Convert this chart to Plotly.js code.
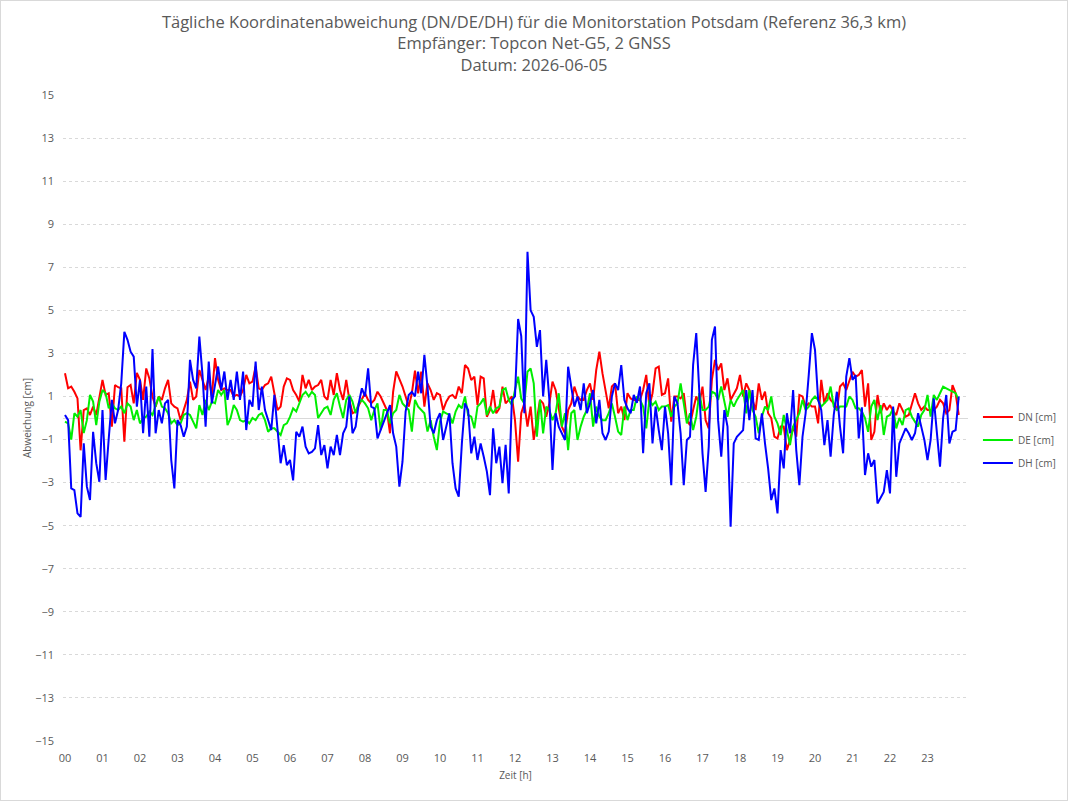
<!DOCTYPE html>
<html>
<head>
<meta charset="utf-8">
<script src="https://cdn.plot.ly/plotly-3.0.1.min.js"></script>
<style>
  html, body { margin: 0; padding: 0; background: #ffffff; }
  #chart { width: 1066px; height: 799px; border: 1px solid #d9d9d9; }
</style>
</head>
<body>
<div id="chart"></div>
<script>
// Messintervall der Tageslösungen in Minuten (Werte ab 00:00)
const intervallMin = 5;

// Koordinatenabweichung Nord [cm]
const DN = [
  2.08,1.38,1.46,1.22,0.91,-1.5,0.37,0.45,0.14,0.53,
  0.14,0.91,1.77,1.07,1.15,-0.4,1.53,1.43,1.38,-1.1,
  1.43,1.53,0.68,2.1,1.77,0.84,2.3,1.84,1.0,0.53,
  1.0,0.84,1.38,1.77,0.68,0.53,
  0.45,-0.1,0.37,0.84,1.69,0.84,1.0,2.23,1.77,1.3,
  1.92,1.0,2.78,1.77,1.3,1.38,1.3,1.3,1.0,1.07,
  1.0,1.3,2.0,1.61,1.69,2.39,1.38,1.3,1.53,1.61,
  1.92,1.15,0.37,0.53,1.46,1.84,1.77,
  1.3,1.07,0.76,2.0,1.38,1.77,1.3,1.46,1.53,1.77,
  1.0,0.84,1.77,1.07,2.08,1.3,0.84,1.77,0.84,0.22,
  0.3,0.6,0.84,1.15,0.84,0.68,0.84,1.22,1.0,0.68,
  0.37,-0.71,1.22,2.16,1.84,1.46,
  1.0,0.53,1.15,2.2,1.15,2.15,0.53,1.61,1.3,0.84,
  1.15,1.07,0.37,0.76,1.0,1.07,0.9,1.46,1.15,2.46,
  2.3,1.76,1.92,0.6,1.92,1.84,0.06,0.37,1.3,0.22,
  0.45,1.46,0.68,0.84,1.0,-0.1,-2.03,0.22,
  0.68,-0.4,0.53,-1.02,-0.1,0.84,0.68,0.06,0.68,1.69,
  1.3,0.53,-0.4,-0.71,0.37,0.68,1.46,1.0,0.84,0.84,
  1.3,1.61,0.84,2.23,3.08,2.07,1.15,0.45,1.46,1.61,
  0.22,0.53,-0.1,1.15,0.91,0.84,0.84,
  0.84,1.3,2.0,0.53,1.15,2.31,2.39,1.07,1.15,1.84,
  -0.17,1.0,1.0,0.91,1.15,-0.1,-0.33,0.37,1.0,0.68,
  1.46,-0.1,-0.48,1.77,2.7,2.23,2.54,1.3,1.84,0.84,
  1.15,1.38,2.0,1.0,1.61,1.3,0.84,
  0.37,1.61,0.84,1.22,0.22,0,-0.87,-0.95,-0.4,-0.4,
  -1.49,-1.02,-0.4,-0.87,1.07,1.0,0.53,0.68,0.53,0.53,
  -0.25,1.77,0.68,1.15,0.84,0.68,0.37,1.46,1.61,1.3,
  1.77,2.15,1.92,
  2.0,2.23,0.53,1.61,-1.02,-0.64,1.07,0.22,0.68,0.37,
  0.6,0.3,0.14,0.68,0.37,0.06,0.14,0.68,1.15,0.68,
  0.37,0.53,0.37,0.37,0.37,0.53,0.84,0.68,0.22,0.37,
  1.53,1.15,0.14
];

// Koordinatenabweichung Ost [cm]
const DE = [
  -0.17,-0.25,-1.0,0.22,0.06,0.37,-0.7,-0.1,1.07,0.76,
  -0.33,0.76,1.3,1.15,0.45,0.68,0.45,0.37,0.53,0.22,
  0.68,0.53,-0.1,0.37,-0.25,0,0.06,0.3,0.14,0.53,
  1.0,0.53,0.45,0.22,-0.25,-0.1,
  -0.33,-0.25,0.14,0.22,0.14,-0.17,-0.48,0.6,0.14,0.84,
  0.37,0.76,0.68,1.3,1.07,1.3,-0.33,0,0.6,0.37,
  -0.1,-0.17,-0.1,-0.25,0,-0.1,0.14,0.22,-0.1,-0.64,
  -0.48,-0.48,-0.64,-0.79,-0.33,-0.25,0.05,
  0.45,0.3,0.68,1.07,1.22,1.0,1.22,1.07,0,0.22,
  0.45,0.53,0.14,0.84,1.15,0.53,0,0.84,1.07,0.76,
  0.22,0.68,0.84,0.68,0.45,-0.1,0.37,0.68,-0.56,0.37,
  0.37,-0.25,0.22,0.37,1.07,0.68,
  0.53,0.37,-0.63,0.84,0.53,0.37,0.22,-0.63,-0.1,-0.87,
  -1.49,-0.17,0.3,0.22,0.14,-0.25,0.3,0.6,0.45,1.0,
  0.14,0.06,-0.48,0.53,0.68,0.91,0.14,0.53,0.22,0.45,
  0.53,1.3,1.38,0.84,0.6,1.3,1.92,0.9,
  0.68,2.15,2.3,1.61,-0.87,0.84,-0.71,0.53,0.37,-0.1,
  0.22,1.15,-0.4,0.22,-1.49,0.22,0.37,-1.02,-0.4,0.06,
  0.37,1.15,-0.4,0.53,0.06,-0.1,-0.1,0.22,0.68,0.06,
  -0.63,-0.79,0.53,-0.1,0.37,0.37,1.0,
  0.84,0.53,-0.48,0.84,0.6,0.76,0.37,0.53,0.53,0.6,
  0.06,0.53,0.68,1.61,0.68,-0.25,0.22,-0.56,0.06,1.15,
  0.37,0.37,0.53,1.22,1.15,0.84,1.46,0.68,0.06,0.84,
  0.53,0.84,1.07,1.3,0.22,1.3,0.37,
  0.06,-0.71,0.06,0.53,0.37,1.0,0.06,-0.25,-0.79,0.14,
  -0.56,-1.26,-0.4,-0.1,0.22,0.84,0.37,0.53,0.84,1.0,
  0.84,0.53,0.68,0.84,1.46,0.53,0.37,0.53,0.53,0.53,
  1.0,0.84,0.45,
  0.45,0.3,0,-0.64,0.53,0.84,-0.1,0.6,-0.79,0.06,
  0.14,0.45,-0.48,0,-0.33,0.37,0.45,0.06,-0.17,-0.4,
  0.14,0.37,1.07,0.06,1.07,0.84,1.15,1.46,1.38,1.3,
  1.22,1.15,0.84
];

// Höhenabweichung [cm]
const DH = [
  0.14,-0.1,-3.27,-3.35,-4.43,-4.59,-1.18,-3.19,-3.81,-0.64,
  -2.1,-2.96,0.37,-2.88,-0.95,0.84,-0.25,0.37,1.61,4.0,
  3.63,3.08,2.85,0.53,1.77,-0.71,1.46,-0.87,3.2,-0.71,
  0.37,-0.25,0.68,0.84,-1.95,-3.27,
  -0.1,-0.33,-0.87,-0.4,2.7,1.77,1.38,3.78,2.0,-0.4,
  2.62,0.68,1.53,2.39,1.3,2.16,0.84,1.77,0.84,2.16,
  0.84,2.16,-0.56,0.84,0.53,2.62,0.37,1.46,0.37,-0.1,
  -0.56,1.07,-0.71,-2.1,-1.26,-2.19,-1.95,
  -2.9,-0.64,-0.87,-0.4,-1.33,-1.64,-1.57,-1.41,-0.33,-1.72,
  -1.26,-2.34,-1.33,-1.72,-0.79,-1.72,-0.71,-0.4,1.0,-0.71,
  -0.4,0.68,1.38,1.0,2.31,0.53,0.45,-0.95,-0.56,-0.17,
  0.22,0.6,-0.71,-1.33,-3.19,-2.03,
  0.3,1.07,1.22,1.0,2.15,1.15,2.93,1.46,-0.4,-0.71,
  -0.1,0.22,-1.02,-0.4,0.22,-2.1,-3.27,-3.65,-1.18,0.68,
  0.37,-1.64,-0.87,-1.95,-1.18,-1.8,-2.49,-3.58,-0.48,-2.1,
  -1.33,-3.03,-1.25,-3.5,0.84,1.0,4.6,3.8,
  0.22,7.72,5.0,4.7,3.3,4.08,1.0,2.7,0.84,-2.41,
  0.22,-0.4,-0.71,-1.02,2.38,1.46,0.53,1.0,0.37,1.61,
  0.22,0.68,1.3,-0.25,0.84,-0.71,-1.02,-0.63,1.0,1.61,
  1.3,2.46,0.84,0.45,0.22,1.07,0.7,
  1.46,-1.64,1.15,1.61,-1.18,0.53,-0.56,-1.49,0.53,-0.71,
  -3.12,1.0,0.68,-0.71,-3.12,-1.02,-0.87,2.47,3.94,0.84,
  -1.64,-3.43,-1.33,3.63,4.25,-0.1,-1.8,0.37,-0.4,-5.05,
  -1.18,-0.87,-0.71,-0.56,1.3,-0.1,1.3,
  -0.95,-1.02,0.22,-1.18,-2.34,-3.81,-3.27,-4.43,-1.49,-2.34,
  0.22,-0.71,1.3,-1.49,-3.12,-0.87,0.22,2.0,3.94,3.16,
  0.84,0.37,-1.26,-0.1,-1.8,0.14,1.22,-0.4,-1.64,1.92,
  2.78,1.77,2.0,
  -0.95,0.5,-2.65,-1.64,-2.26,-1.95,-3.97,-3.66,-3.43,-2.42,
  -3.5,0.53,-2.73,-1.18,-0.87,-0.48,-0.71,-1.02,-0.71,0.22,
  -0.4,-1.02,-1.95,-1.02,0.91,-0.71,-2.26,0,1.07,-1.18,
  -0.64,-0.56,1.0
];

// Stundenbeschriftung der Zeitachse
const stundenWerte = [0,1,2,3,4,5,6,7,8,9,10,11,12,13,14,15,16,17,18,19,20,21,22,23];
const stundenText = ['00','01','02','03','04','05','06','07','08','09','10','11',
                     '12','13','14','15','16','17','18','19','20','21','22','23'];

// Beschriftung
const titelZeilen = [
  'Tägliche Koordinatenabweichung (DN/DE/DH) für die Monitorstation Potsdam (Referenz 36,3 km)',
  'Empfänger: Topcon Net-G5, 2 GNSS',
  'Datum: 2026-06-05'
];
const serienNamen = ['DN [cm]', 'DE [cm]', 'DH [cm]'];
const serienFarben = ['#ff0000', '#00ee00', '#0000ff'];

// Zeitstempel in Stunden seit Tagesbeginn
const zeitH = DN.map((_, i) => i * intervallMin / 60);

const textFarbe = '#595959';
const rasterFarbe = '#d9d9d9';
const schrift = 'Open Sans, Liberation Sans, sans-serif';

const traces = [DN, DE, DH].map((werte, k) => ({
  type: 'scatter',
  mode: 'lines',
  x: zeitH,
  y: werte,
  name: serienNamen[k],
  legendgroup: 'g' + k,
  line: { color: serienFarben[k], width: 2 },
  hoverinfo: 'x+y+name'
}));

const layout = {
  width: 1066,
  height: 799,
  margin: { l: 62, r: 99, t: 94, b: 59, autoexpand: false },
  paper_bgcolor: '#ffffff',
  plot_bgcolor: '#ffffff',
  font: { family: schrift, color: textFarbe, size: 11 },
  title: {
    text: titelZeilen.join('<br>'),
    font: { family: schrift, size: 16.5, color: textFarbe },
    xref: 'container', x: 0.5, xanchor: 'center',
    yref: 'container', y: 1 - 27 / 799, yanchor: 'top'
  },
  xaxis: {
    range: [-0.053, 24.08],
    tickmode: 'array',
    tickvals: stundenWerte,
    ticktext: stundenText,
    showgrid: false,
    zeroline: false,
    showline: false,
    ticks: '',
    ticklabelstandoff: 9,
    tickfont: { family: schrift, size: 11, color: textFarbe },
    title: { text: 'Zeit [h]', font: { size: 10, color: textFarbe }, standoff: 7 },
    automargin: false
  },
  yaxis: {
    range: [-15, 15],
    tick0: -15,
    dtick: 2,
    showgrid: true,
    gridcolor: rasterFarbe,
    griddash: 'dot',
    gridwidth: 1,
    zeroline: true,
    zerolinecolor: rasterFarbe,
    zerolinewidth: 1,
    showline: false,
    ticks: '',
    ticklabelstandoff: 8,
    tickfont: { family: schrift, size: 11, color: textFarbe },
    title: { text: 'Abweichung [cm]', font: { size: 10, color: textFarbe }, standoff: 1 },
    automargin: false
  },
  legend: {
    x: 1.011, xanchor: 'left',
    y: 0.466, yanchor: 'middle',
    font: { size: 10, color: textFarbe },
    tracegroupgap: 4,
    bgcolor: 'rgba(0,0,0,0)'
  },
  showlegend: true
};

Plotly.newPlot('chart', traces, layout, { displayModeBar: false, staticPlot: true });
</script>
</body>
</html>
